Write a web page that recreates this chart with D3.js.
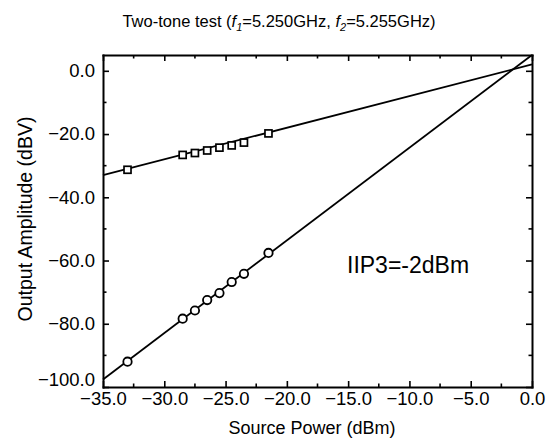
<!DOCTYPE html>
<html lang="en">
<head>
  <meta charset="UTF-8">
  <title>Two-tone test</title>
  <script src="https://d3js.org/d3.v7.min.js"></script>
  <style>
    body { margin: 0; background: #fff; }
    svg { font-family: "Liberation Sans", Arial, sans-serif; }
    .axis path, .axis line { stroke: #000; }
    .axis path { stroke-width: 2; }
    .axis line { stroke-width: 1.6; }
    .axis text { font-size: 18.5px; fill: #000; }
  </style>
</head>
<body>
  <script>
    // measured points (source power in dBm, output in dBV)
    const fundX = [-33, -28.5, -27.5, -26.5, -25.5, -24.5, -23.5, -21.5];
    const fundY = [-31.3, -26.6, -26.0, -25.2, -24.3, -23.6, -22.7, -19.8];
    const imdX = [-33, -28.5, -27.5, -26.5, -25.5, -24.5, -23.5, -21.5];
    const imdY = [-92.0, -78.4, -75.8, -72.5, -70.3, -66.8, -64.2, -57.6];

    // fitted lines, end points
    const fundFit = [[-35, -33], [0, 2]];
    const imdFit = [[-35, -97.6], [0, 5]];

    const xTicks = [-35, -30, -25, -20, -15, -10, -5, 0];
    const yTicks = [0, -20, -40, -60, -80, -100];

    const width = 552, height = 439;
    const margin = { top: 55, right: 20, bottom: 52, left: 103 };

    const svg = d3.select('body').append('svg')
      .attr('width', width)
      .attr('height', height);

    const x = d3.scaleLinear().domain([-35, 0]).range([margin.left, width - margin.right]);
    const y = d3.scaleLinear().domain([-100, 5]).range([height - margin.bottom, margin.top]);

    const fmt = d3.format('.1f');
    const xMinor = d3.range(-32.5, 0, 5);
    const yMinor = d3.range(-90, 5, 20);

    // frame + ticks
    const axes = [
      { gen: d3.axisBottom(x), t: `translate(0,${y.range()[0]})`, labels: true },
      { gen: d3.axisTop(x), t: `translate(0,${y.range()[1]})`, labels: false },
      { gen: d3.axisLeft(y), t: `translate(${x.range()[0]},0)`, labels: true },
      { gen: d3.axisRight(y), t: `translate(${x.range()[1]},0)`, labels: false }
    ];
    axes.forEach((a, i) => {
      const isX = i < 2;
      const g = svg.append('g').attr('class', 'axis').attr('transform', a.t);
      g.call(a.gen
        .tickValues(isX ? xTicks : yTicks)
        .tickSizeInner(-6)
        .tickSizeOuter(0)
        .tickPadding(isX ? 5 : 8)
        .tickFormat(a.labels ? fmt : ''));
      g.select('.domain').attr('stroke-linecap', 'square');
      const minor = isX ? xMinor : yMinor;
      const sign = (i === 0) ? -1 : (i === 1 ? 1 : (i === 2 ? 1 : -1));
      g.selectAll('.minor').data(minor).join('line')
        .attr('class', 'minor')
        .attr(isX ? 'x1' : 'y1', d => isX ? x(d) : y(d))
        .attr(isX ? 'x2' : 'y2', d => isX ? x(d) : y(d))
        .attr(isX ? 'y1' : 'x1', 0)
        .attr(isX ? 'y2' : 'x2', sign * 3.5);
      // lowest y label sits a bit higher, clear of the x labels
      if (i === 2) {
        g.selectAll('.tick text').filter(d => d === -100).attr('y', -7);
      }
    });

    // fit lines
    const line = d3.line().x(d => x(d[0])).y(d => y(d[1]));
    [fundFit, imdFit].forEach(f => {
      svg.append('path')
        .attr('d', line(f))
        .attr('fill', 'none')
        .attr('stroke', '#000')
        .attr('stroke-width', 1.8);
    });

    // markers
    svg.selectAll('.sq').data(fundX).join('rect')
      .attr('class', 'sq')
      .attr('x', (d, i) => x(d) - 3.5)
      .attr('y', (d, i) => y(fundY[i]) - 3.5)
      .attr('width', 7).attr('height', 7)
      .attr('fill', '#fff').attr('stroke', '#000').attr('stroke-width', 1.7);

    svg.selectAll('.ci').data(imdX).join('circle')
      .attr('class', 'ci')
      .attr('cx', d => x(d))
      .attr('cy', (d, i) => y(imdY[i]))
      .attr('r', 4.2)
      .attr('fill', '#fff').attr('stroke', '#000').attr('stroke-width', 1.8);

    // title
    const title = svg.append('text')
      .attr('x', 279).attr('y', 27)
      .attr('text-anchor', 'middle')
      .style('font-size', '16.5px');
    title.append('tspan').text('Two-tone test (');
    title.append('tspan').style('font-style', 'italic').text('f');
    title.append('tspan').attr('dy', 4).style('font-size', '11px').style('font-style', 'italic').text('1');
    title.append('tspan').attr('dy', -4).text('=5.250GHz, ');
    title.append('tspan').style('font-style', 'italic').text('f');
    title.append('tspan').attr('dy', 4).style('font-size', '11px').style('font-style', 'italic').text('2');
    title.append('tspan').attr('dy', -4).text('=5.255GHz)');

    svg.append('text')
      .attr('x', 312).attr('y', 434)
      .attr('text-anchor', 'middle')
      .style('font-size', '18px')
      .text('Source Power (dBm)');

    svg.append('text')
      .attr('transform', 'translate(32,219) rotate(-90)')
      .attr('text-anchor', 'middle')
      .style('font-size', '19.5px')
      .text('Output Amplitude (dBV)');

    svg.append('text')
      .attr('x', 347).attr('y', 273)
      .style('font-size', '23px')
      .text('IIP3=-2dBm');
  </script>
</body>
</html>
